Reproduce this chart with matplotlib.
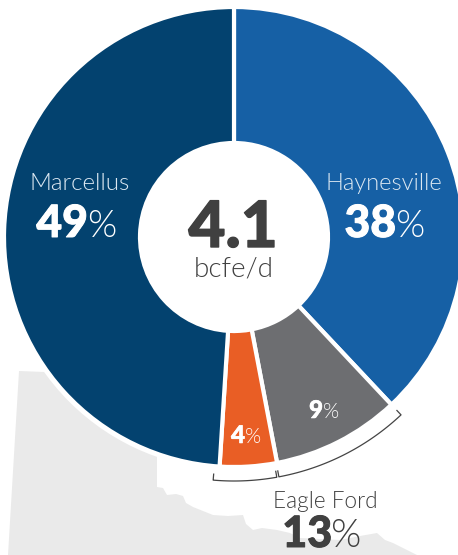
import numpy as np
import matplotlib
matplotlib.use("Agg")
import matplotlib.pyplot as plt
import matplotlib.patheffects as pe
from matplotlib.patches import Polygon, Circle

# Data
categories = ["Haynesville", "Eagle Ford (gray)", "Eagle Ford (orange)", "Marcellus"]
shares = [38, 9, 4, 49]
colors = ["#1660A5", "#6D6E71", "#E95E25", "#03426F"]

# Decorative background map outline, in image pixels
map_x = [19, 45, 100, 157, 157, 163, 167, 176, 183, 186, 193, 203, 213, 228, 243, 246, 253, 262, 277, 290,
         300, 340, 360, 377, 385, 393, 417, 8]
map_y = [371, 372, 420, 450, 487, 488, 495, 494, 496, 503, 507, 511, 515, 516, 515, 524, 530, 528, 530, 533,
         538, 540, 536, 533, 540, 543, 555, 555]

W, H = 458, 555
CX, CY, R, HOLE = 234, H - 237, 230, 94
INK = "#404040"
FONT = ["Lato", "Open Sans", "DejaVu Sans"]

fig = plt.figure(figsize=(W / 100, H / 100), dpi=100)
ax = fig.add_axes([0, 0, 1, 1])

ax.add_patch(Polygon(list(zip(map_x, [H - y for y in map_y])), closed=True,
                     facecolor="#EAEAEA", edgecolor="none", zorder=0))
ax.add_patch(Circle((CX, CY), 233, facecolor="white", edgecolor="none", zorder=0.5))

ax.pie(shares, colors=colors, startangle=90, counterclock=False, radius=R,
       center=(CX, CY), frame=True,
       wedgeprops=dict(width=R - HOLE, edgecolor="white", linewidth=3.0, zorder=1))

ax.set_xlim(0, W)
ax.set_ylim(0, H)
ax.set_aspect("equal")
ax.axis("off")


def bracket(a0, a1, r=244, inner=238):
    """Arc bracket between clockwise-from-top angles (degrees)."""
    t = np.radians(np.linspace(a0, a1, 80))
    rr = np.r_[inner, np.full(t.size, r), inner]
    tt = np.r_[t[0], t, t[-1]]
    ax.plot(CX + rr * np.sin(tt), CY + rr * np.cos(tt), color="#444444", lw=0.9, zorder=2)


bound = np.cumsum(shares) * 3.6
bracket(bound[0] + 0.0, bound[1] + 0.2)
bracket(bound[1] + 0.7, bound[2] + 1.3)


def label(x, y, s, size, color, weight=300, ha="center", stroke=0.0):
    t = ax.text(x, H - y, s, fontsize=size, color=color, fontweight=weight, ha=ha,
                va="baseline", family=FONT, zorder=3)
    if stroke:
        t.set_path_effects([pe.withStroke(linewidth=stroke, foreground=color)])


def pct(x, y, num, size, psize, color, stroke=0.7, gap=-1):
    label(x, y, num, size, color, weight="black", ha="right", stroke=stroke)
    label(x + gap, y, "%", psize, color, weight=300, ha="left")


label(80, 190, "Marcellus", 17.4, "#DCE8F2")
label(384, 190, "Haynesville", 17.0, "#DCE8F2")
pct(88, 237, "49", 32, 27, "white")
pct(396, 237, "38", 32, 27, "white")
label(233, 247, "4.1", 46, INK, weight="black", stroke=1.0)
label(234, 277, "bcfe/d", 20, INK)
pct(323, 418, "9", 17.5, 15, "white", stroke=0.4, gap=0)
pct(245, 443, "4", 17.5, 15, "white", stroke=0.4, gap=0)
label(325, 508, "Eagle Ford", 16.3, INK)
pct(332, 547, "13", 31, 28, INK)

fig.savefig("out.png", dpi=100, facecolor="white")
